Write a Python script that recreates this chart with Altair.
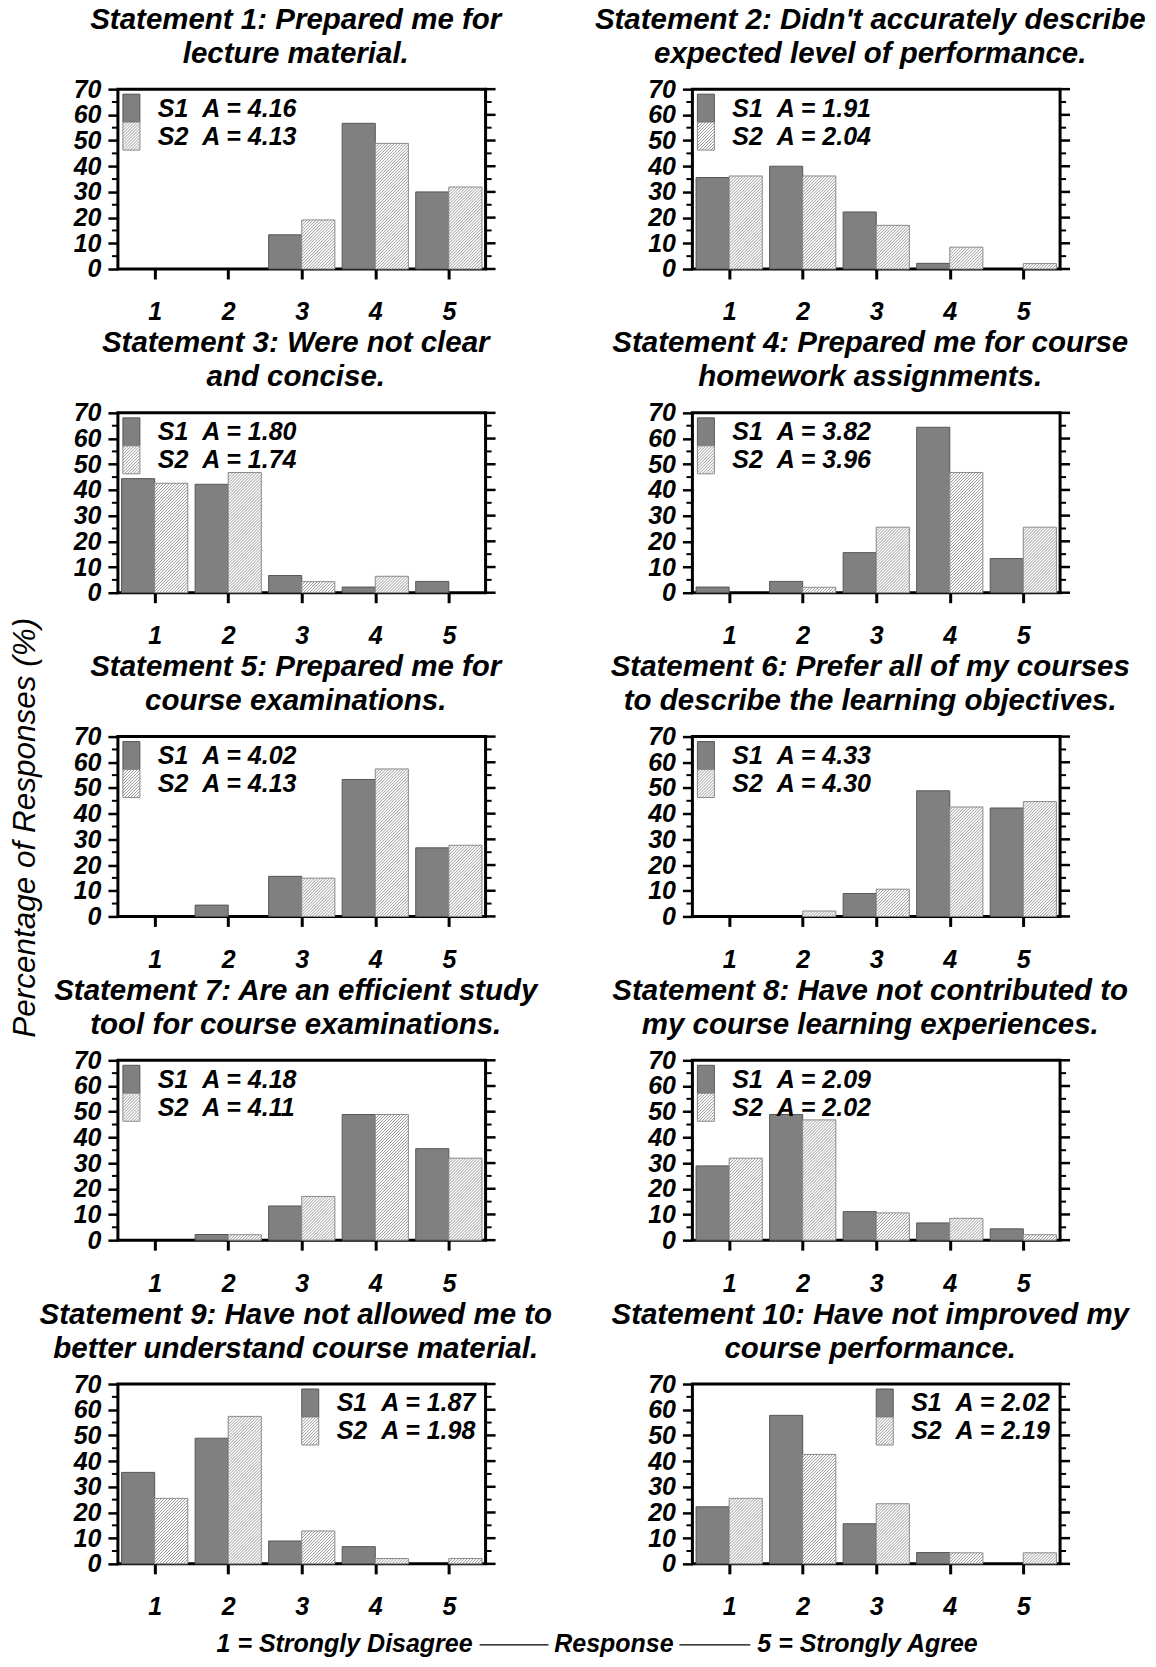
import altair as alt
import pandas as pd

# ---------------- data ----------------
titles = [
    ["Statement 1: Prepared me for", "lecture material."],
    ["Statement 2: Didn't accurately describe", "expected level of performance."],
    ["Statement 3: Were not clear", "and concise."],
    ["Statement 4: Prepared me for course", "homework assignments."],
    ["Statement 5: Prepared me for", "course examinations."],
    ["Statement 6: Prefer all of my courses", "to describe the learning objectives."],
    ["Statement 7: Are an efficient study", "tool for course examinations."],
    ["Statement 8: Have not contributed to", "my course learning experiences."],
    ["Statement 9: Have not allowed me to", "better understand course material."],
    ["Statement 10: Have not improved my", "course performance."],
]
responses = [1, 2, 3, 4, 5]
s1 = [
    [0, 0, 13.3, 56.7, 30.0],
    [35.6, 40.0, 22.2, 2.2, 0],
    [44.4, 42.2, 6.7, 2.2, 4.4],
    [2.2, 4.4, 15.6, 64.4, 13.3],
    [0, 4.4, 15.6, 53.3, 26.7],
    [0, 0, 8.9, 48.9, 42.2],
    [0, 2.2, 13.3, 48.9, 35.6],
    [28.9, 48.9, 11.1, 6.7, 4.4],
    [35.6, 48.9, 8.9, 6.7, 0],
    [22.2, 57.8, 15.6, 4.4, 0],
]
s2 = [
    [0, 0, 19.1, 48.9, 31.9],
    [36.2, 36.2, 17.0, 8.5, 2.1],
    [42.6, 46.8, 4.3, 6.4, 0],
    [0, 2.1, 25.5, 46.8, 25.5],
    [0, 0, 14.9, 57.4, 27.7],
    [0, 2.1, 10.6, 42.6, 44.7],
    [0, 2.1, 17.0, 48.9, 31.9],
    [31.9, 46.8, 10.6, 8.5, 2.1],
    [25.5, 57.4, 12.8, 2.1, 2.1],
    [25.5, 42.6, 23.4, 4.3, 4.3],
]
avg_s1 = ["4.16", "1.91", "1.80", "3.82", "4.02", "4.33", "4.18", "2.09", "1.87", "2.02"]
avg_s2 = ["4.13", "2.04", "1.74", "3.96", "4.13", "4.30", "4.11", "2.02", "1.98", "2.19"]
legend_side = ["left"] * 8 + ["right"] * 2
y_major = [0, 10, 20, 30, 40, 50, 60, 70]
y_minor = [5, 15, 25, 35, 45, 55, 65]
footer = ["1 = Strongly Disagree", "Response", "5 = Strongly Agree"]
y_title = "Percentage of Responses (%)"

# ---------------- layout / style ----------------
W, H = 368, 180
X0, X1 = 0.5, 5.5
YMAX = 70
PXX = W / (X1 - X0)
PXY = H / YMAX
BW = 0.45
STEP = 3.0
FONT = "Liberation Sans"


def px_x(p):
    return X0 + p / PXX


def px_y(p):
    return YMAX - p / PXY


def hatch(xa, xb, ya, yb):
    bw = (xb - xa) * PXX
    bh = (yb - ya) * PXY
    segs = []
    k = -int(bh // STEP) - 1
    kmax = int(bw // STEP) + 1
    while k <= kmax:
        off = k * STEP + STEP / 2
        u0 = max(0.0, off)
        u1 = min(bw, bh + off)
        if u1 - u0 > 0.4:
            segs.append(dict(hx0=xa + u0 / PXX, hx1=xa + u1 / PXX,
                             hy0=ya + (u0 - off) / PXY, hy1=ya + (u1 - off) / PXY))
        k += 1
    return segs


xscale = alt.Scale(domain=[X0, X1], nice=False, zero=False)
yscale = alt.Scale(domain=[0, YMAX], nice=False, zero=False)
xaxis = alt.Axis(values=responses, format="d", tickSize=10, tickWidth=3, tickColor="black",
                 labelFont=FONT, labelFontStyle="italic", labelFontWeight="bold", labelColor="black",
                 labelFontSize=25, labelPadding=21, labelOverlap=False, labelFlush=False,
                 domain=False, grid=False, title=None)
yaxis = alt.Axis(values=y_major, tickSize=10, tickWidth=2.5, tickColor="black",
                 labelFont=FONT, labelFontStyle="italic", labelFontWeight="bold", labelColor="black",
                 labelFontSize=25, labelPadding=7, labelOverlap=False, labelFlush=False,
                 domain=False, grid=False, title=None)


def X(field):
    return alt.X(field, scale=xscale, axis=xaxis, title=None)


def Y(field):
    return alt.Y(field, scale=yscale, axis=yaxis, title=None)


def text_layer(t, x, y, align="left", size=25):
    return alt.Chart(pd.DataFrame({"t": [t]})).mark_text(
        align=align, baseline="middle", font=FONT, fontSize=size,
        fontStyle="italic", fontWeight="bold", color="black"
    ).encode(text="t:N", x=alt.value(x), y=alt.value(y))


def panel(i):
    rects, hl = [], []
    for j, r in enumerate(responses):
        if s1[i][j] > 0:
            rects.append(dict(series="S1", xa=r - BW, xb=r, ya=0, yb=s1[i][j]))
        if s2[i][j] > 0:
            rects.append(dict(series="S2", xa=r, xb=r + BW, ya=0, yb=s2[i][j]))
            hl += hatch(r, r + BW, 0, s2[i][j])
    lx = 184 if legend_side[i] == "right" else 5
    rects.append(dict(series="S1", xa=px_x(lx), xb=px_x(lx + 17), ya=px_y(33), yb=px_y(5)))
    rects.append(dict(series="S2", xa=px_x(lx), xb=px_x(lx + 17), ya=px_y(61), yb=px_y(33)))
    hl += hatch(px_x(lx), px_x(lx + 17), px_y(61), px_y(33))

    bars = alt.Chart(pd.DataFrame(rects)).mark_rect(strokeWidth=1).encode(
        x=X("xa:Q"), x2="xb:Q", y=Y("ya:Q"), y2="yb:Q",
        fill=alt.Fill("series:N", scale=alt.Scale(domain=["S1", "S2"], range=["#808080", "#ffffff"]), legend=None),
        stroke=alt.Stroke("series:N", scale=alt.Scale(domain=["S1", "S2"], range=["#555555", "#8a8a8a"]), legend=None),
    )
    hatch_layer = alt.Chart(pd.DataFrame(hl)).mark_rule(color="#8c8c8c", strokeWidth=0.9).encode(
        x=X("hx0:Q"), x2="hx1:Q", y=Y("hy0:Q"), y2="hy1:Q")

    left_minor = alt.Chart(pd.DataFrame({"v": y_minor})).mark_rule(color="black", strokeWidth=2).encode(
        y=Y("v:Q"), x=alt.value(-6), x2=alt.value(0))
    right_major = alt.Chart(pd.DataFrame({"v": y_major})).mark_rule(color="black", strokeWidth=2.5).encode(
        y=Y("v:Q"), x=alt.value(W), x2=alt.value(W + 10))
    right_minor = alt.Chart(pd.DataFrame({"v": y_minor})).mark_rule(color="black", strokeWidth=2).encode(
        y=Y("v:Q"), x=alt.value(W), x2=alt.value(W + 6))

    tx = lx + 35
    layers = [bars, hatch_layer, left_minor, right_major, right_minor,
              text_layer(f"S1\u00a0\u00a0A = {avg_s1[i]}", tx, 19.5),
              text_layer(f"S2\u00a0\u00a0A = {avg_s2[i]}", tx, 47.5)]

    if i == 8:
        fy = 260
        layers += [
            text_layer(footer[0], 355, fy, align="right", size=25),
            alt.Chart(pd.DataFrame({"t": [0]})).mark_rule(color="black", strokeWidth=1.2).encode(
                x=alt.value(362), x2=alt.value(431), y=alt.value(fy + 1)),
            text_layer(footer[1], 496.5, fy, align="center", size=25),
            alt.Chart(pd.DataFrame({"t": [0]})).mark_rule(color="black", strokeWidth=1.2).encode(
                x=alt.value(562), x2=alt.value(633), y=alt.value(fy + 1)),
            text_layer(footer[2], 640, fy, align="left", size=25),
        ]

    return alt.layer(*layers).properties(
        width=W, height=H,
        title=alt.TitleParams(text=titles[i], font=FONT, fontSize=29.5, fontStyle="italic",
                              fontWeight="bold", color="black", lineHeight=34,
                              anchor="middle", frame="group", offset=8, dx=-6),
    )


panels = [panel(i) for i in range(10)]
chart = alt.concat(
    *panels, columns=2, spacing={"row": 144, "column": 207}, bounds="flush",
    title=alt.TitleParams(text=y_title, orient="left", anchor="middle", frame="bounds",
                          font=FONT, fontSize=31.5, fontStyle="italic", fontWeight="normal",
                          color="black", offset=-4, dx=3),
).properties(
    padding={"left": 2, "top": -5.5, "right": 0, "bottom": 0}
).configure_view(stroke="black", strokeWidth=3)

chart.save("out.html", embed_options={"renderer": "svg", "actions": False})
